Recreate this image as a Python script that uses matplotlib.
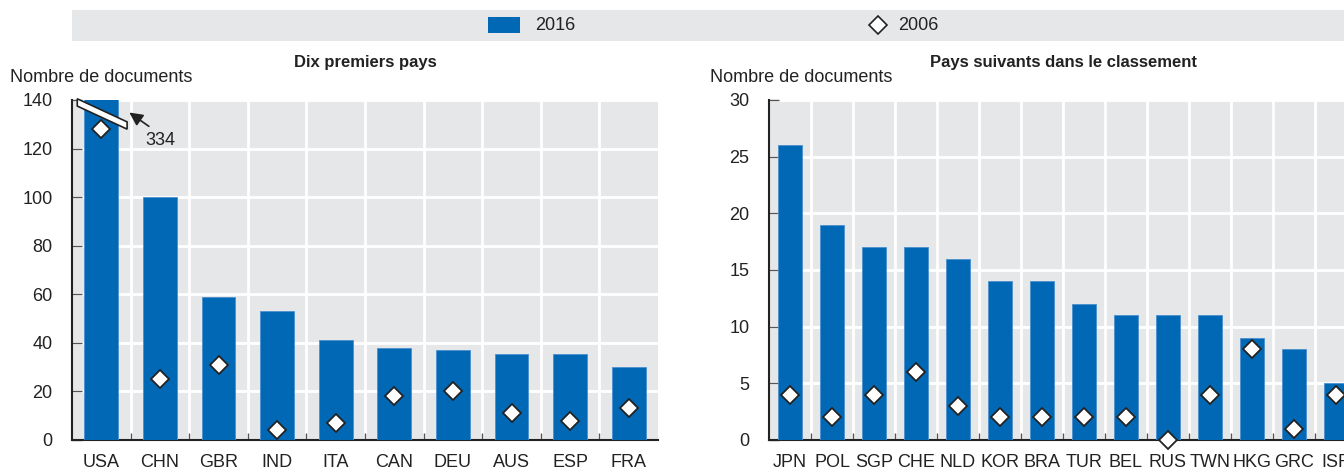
import matplotlib as mpl
import matplotlib.pyplot as plt
from matplotlib.patches import Rectangle, Polygon
from matplotlib.lines import Line2D

plt.rcParams['font.family'] = ['Liberation Sans Narrow', 'Liberation Sans', 'DejaVu Sans']

BLUE = '#0068b5'
BG = '#e6e7e9'
TXT = '#222222'

# top ten
top_countries = ['USA', 'CHN', 'GBR', 'IND', 'ITA', 'CAN', 'DEU', 'AUS', 'ESP', 'FRA']
top_2016 = [334, 100, 59, 53, 41, 38, 37, 35.5, 35.5, 30]
top_2006 = [128, 25, 31, 4, 7, 18, 20, 11, 8, 13]

# following countries
next_countries = ['JPN', 'POL', 'SGP', 'CHE', 'NLD', 'KOR', 'BRA', 'TUR', 'BEL', 'RUS',
                  'TWN', 'HKG', 'GRC', 'ISR']
next_2016 = [26, 19, 17, 17, 16, 14, 14, 12, 11, 11, 11, 9, 8, 5]
next_2006 = [4, 2, 4, 6, 3, 2, 2, 2, 2, 0, 4, 8, 1, 4]

W, H = 1344, 472
fig = plt.figure(figsize=(W / 100, H / 100), dpi=100)


def px(x0, y0, x1, y1):
    return [x0 / W, 1 - y1 / H, (x1 - x0) / W, (y1 - y0) / H]


def draw_panel(ax, cats, v16, v06, ymax, step, title, barw):
    n = len(cats)
    xs = range(n)
    ax.set_facecolor(BG)
    ax.bar(xs, v16, width=barw, color=BLUE, edgecolor='#4a90cf', linewidth=0.6, zorder=3)
    ax.plot(xs, v06, linestyle='none', marker='D', markersize=9, markerfacecolor='white',
            markeredgecolor=TXT, markeredgewidth=1.3, zorder=5, clip_on=False)
    ax.set_xlim(-0.5, n - 0.5)
    ax.set_ylim(0, ymax)
    ax.set_yticks(range(0, ymax + 1, step))
    ax.set_xticks(list(xs))
    ax.set_xticklabels(cats)
    ax.set_xticks([i + 0.5 for i in range(n - 1)], minor=True)
    ax.grid(True, which='minor', axis='x', color='white', linewidth=2, zorder=0)
    ax.grid(True, which='major', axis='y', color='white', linewidth=2, zorder=0)
    for s in ['top', 'right']:
        ax.spines[s].set_visible(False)
    ax.spines['left'].set_linewidth(1.5)
    ax.spines['bottom'].set_linewidth(1.5)
    ax.spines['left'].set_color(TXT)
    ax.spines['bottom'].set_color(TXT)
    ax.tick_params(axis='x', which='major', length=0, pad=10, labelsize=13, labelcolor=TXT)
    ax.tick_params(axis='x', which='minor', direction='in', length=5, color='#555555', width=1)
    ax.tick_params(axis='y', direction='in', length=7, width=1, color='#555555', pad=14,
                   labelsize=13, labelcolor=TXT)
    ax.set_title(title, fontsize=12, fontweight='bold', color=TXT, pad=24)


ax1 = fig.add_axes(px(72, 100, 658, 440))
draw_panel(ax1, top_countries, top_2016, top_2006, 140, 20, 'Dix premiers pays', 0.58)

ax2 = fig.add_axes(px(769, 100, 1357, 440))
draw_panel(ax2, next_countries, next_2016, next_2006, 30, 5, 'Pays suivants dans le classement', 0.56)

fig.text(10 / W, 1 - 77 / H, 'Nombre de documents', fontsize=13, color=TXT, va='center', ha='left')
fig.text(710 / W, 1 - 77 / H, 'Nombre de documents', fontsize=13, color=TXT, va='center', ha='left')

# axis break on the USA bar
brk = Polygon([(-0.41, 140.5), (0.44, 131.0), (0.44, 128.0), (-0.41, 137.5)],
              closed=True, facecolor='white', edgecolor=TXT, linewidth=1.2, zorder=6, clip_on=False)
ax1.add_patch(brk)
ax1.annotate('', xy=(0.44, 135.5), xytext=(0.85, 128.5),
             arrowprops=dict(arrowstyle='-|>', color=TXT, lw=1.2, mutation_scale=20),
             zorder=7, annotation_clip=False)
ax1.text(1.0, 123.5, '334', fontsize=13, color=TXT, ha='center', va='center', zorder=7)

# legend band
fig.add_artist(Rectangle((72 / W, 1 - 41 / H), (W - 72) / W, 31 / H, transform=fig.transFigure,
                         facecolor=BG, edgecolor='none', zorder=0))
fig.add_artist(Rectangle((488 / W, 1 - 33 / H), 32 / W, 16 / H, transform=fig.transFigure,
                         facecolor=BLUE, edgecolor='none'))
fig.text(535 / W, 1 - 25 / H, '2016', fontsize=13, color=TXT, va='center', ha='left')
fig.add_artist(Line2D([878 / W], [1 - 25 / H], transform=fig.transFigure, marker='D',
                      markersize=9, markerfacecolor='white', markeredgecolor=TXT,
                      markeredgewidth=1.2, linestyle='none'))
fig.text(898 / W, 1 - 25 / H, '2006', fontsize=13, color=TXT, va='center', ha='left')

fig.savefig('out.png', dpi=100)
